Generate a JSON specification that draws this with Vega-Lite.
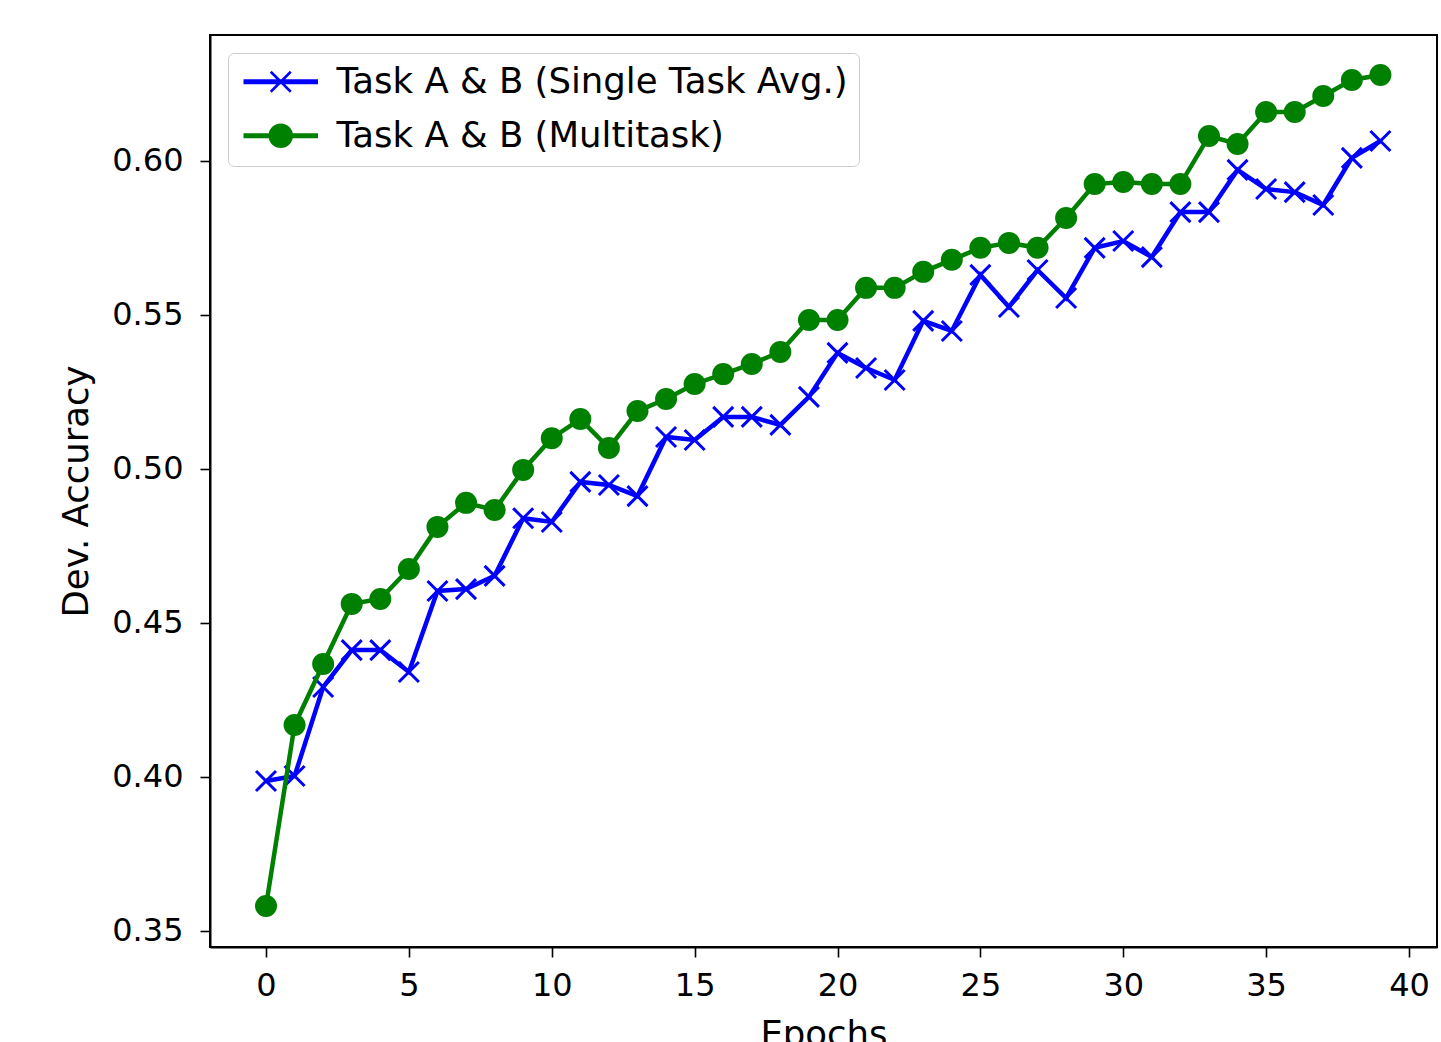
{
  "$schema": "https://vega.github.io/schema/vega-lite/v6.json",
  "width": 1227,
  "height": 912,
  "autosize": {"type": "none"},
  "padding": {"left": 210, "top": 35, "right": 4, "bottom": 95},
  "background": "white",
  "config": {
    "font": "DejaVu Sans",
    "view": {"stroke": "black", "strokeWidth": 2},
    "axis": {
      "grid": false, "domainColor": "black", "domainWidth": 2,
      "tickColor": "black", "tickWidth": 1.6, "tickSize": 10,
      "labelFontSize": 32, "labelColor": "black", "labelFont": "DejaVu Sans",
      "titleFontSize": 35.5, "titleFontWeight": "normal", "titleColor": "black", "titleFont": "DejaVu Sans"
    }
  },
  "data": {"values": [
    {"epoch":0,"series":"Task A & B (Single Task Avg.)","acc":0.3987},
    {"epoch":1,"series":"Task A & B (Single Task Avg.)","acc":0.4003},
    {"epoch":2,"series":"Task A & B (Single Task Avg.)","acc":0.4292},
    {"epoch":3,"series":"Task A & B (Single Task Avg.)","acc":0.4412},
    {"epoch":4,"series":"Task A & B (Single Task Avg.)","acc":0.4412},
    {"epoch":5,"series":"Task A & B (Single Task Avg.)","acc":0.4341},
    {"epoch":6,"series":"Task A & B (Single Task Avg.)","acc":0.4604},
    {"epoch":7,"series":"Task A & B (Single Task Avg.)","acc":0.4610},
    {"epoch":8,"series":"Task A & B (Single Task Avg.)","acc":0.4653},
    {"epoch":9,"series":"Task A & B (Single Task Avg.)","acc":0.4840},
    {"epoch":10,"series":"Task A & B (Single Task Avg.)","acc":0.4828},
    {"epoch":11,"series":"Task A & B (Single Task Avg.)","acc":0.4958},
    {"epoch":12,"series":"Task A & B (Single Task Avg.)","acc":0.4948},
    {"epoch":13,"series":"Task A & B (Single Task Avg.)","acc":0.4912},
    {"epoch":14,"series":"Task A & B (Single Task Avg.)","acc":0.5104},
    {"epoch":15,"series":"Task A & B (Single Task Avg.)","acc":0.5094},
    {"epoch":16,"series":"Task A & B (Single Task Avg.)","acc":0.5169},
    {"epoch":17,"series":"Task A & B (Single Task Avg.)","acc":0.5169},
    {"epoch":18,"series":"Task A & B (Single Task Avg.)","acc":0.5143},
    {"epoch":19,"series":"Task A & B (Single Task Avg.)","acc":0.5234},
    {"epoch":20,"series":"Task A & B (Single Task Avg.)","acc":0.5377},
    {"epoch":21,"series":"Task A & B (Single Task Avg.)","acc":0.5328},
    {"epoch":22,"series":"Task A & B (Single Task Avg.)","acc":0.5289},
    {"epoch":23,"series":"Task A & B (Single Task Avg.)","acc":0.5481},
    {"epoch":24,"series":"Task A & B (Single Task Avg.)","acc":0.5448},
    {"epoch":25,"series":"Task A & B (Single Task Avg.)","acc":0.5630},
    {"epoch":26,"series":"Task A & B (Single Task Avg.)","acc":0.5526},
    {"epoch":27,"series":"Task A & B (Single Task Avg.)","acc":0.5646},
    {"epoch":28,"series":"Task A & B (Single Task Avg.)","acc":0.5555},
    {"epoch":29,"series":"Task A & B (Single Task Avg.)","acc":0.5718},
    {"epoch":30,"series":"Task A & B (Single Task Avg.)","acc":0.5740},
    {"epoch":31,"series":"Task A & B (Single Task Avg.)","acc":0.5688},
    {"epoch":32,"series":"Task A & B (Single Task Avg.)","acc":0.5834},
    {"epoch":33,"series":"Task A & B (Single Task Avg.)","acc":0.5834},
    {"epoch":34,"series":"Task A & B (Single Task Avg.)","acc":0.5971},
    {"epoch":35,"series":"Task A & B (Single Task Avg.)","acc":0.5909},
    {"epoch":36,"series":"Task A & B (Single Task Avg.)","acc":0.5899},
    {"epoch":37,"series":"Task A & B (Single Task Avg.)","acc":0.5857},
    {"epoch":38,"series":"Task A & B (Single Task Avg.)","acc":0.6010},
    {"epoch":39,"series":"Task A & B (Single Task Avg.)","acc":0.6065},
    {"epoch":0,"series":"Task A & B (Multitask)","acc":0.3581},
    {"epoch":1,"series":"Task A & B (Multitask)","acc":0.4169},
    {"epoch":2,"series":"Task A & B (Multitask)","acc":0.4367},
    {"epoch":3,"series":"Task A & B (Multitask)","acc":0.4562},
    {"epoch":4,"series":"Task A & B (Multitask)","acc":0.4578},
    {"epoch":5,"series":"Task A & B (Multitask)","acc":0.4675},
    {"epoch":6,"series":"Task A & B (Multitask)","acc":0.4812},
    {"epoch":7,"series":"Task A & B (Multitask)","acc":0.4890},
    {"epoch":8,"series":"Task A & B (Multitask)","acc":0.4867},
    {"epoch":9,"series":"Task A & B (Multitask)","acc":0.4997},
    {"epoch":10,"series":"Task A & B (Multitask)","acc":0.5100},
    {"epoch":11,"series":"Task A & B (Multitask)","acc":0.5162},
    {"epoch":12,"series":"Task A & B (Multitask)","acc":0.5068},
    {"epoch":13,"series":"Task A & B (Multitask)","acc":0.5188},
    {"epoch":14,"series":"Task A & B (Multitask)","acc":0.5227},
    {"epoch":15,"series":"Task A & B (Multitask)","acc":0.5276},
    {"epoch":16,"series":"Task A & B (Multitask)","acc":0.5308},
    {"epoch":17,"series":"Task A & B (Multitask)","acc":0.5341},
    {"epoch":18,"series":"Task A & B (Multitask)","acc":0.5380},
    {"epoch":19,"series":"Task A & B (Multitask)","acc":0.5484},
    {"epoch":20,"series":"Task A & B (Multitask)","acc":0.5484},
    {"epoch":21,"series":"Task A & B (Multitask)","acc":0.5588},
    {"epoch":22,"series":"Task A & B (Multitask)","acc":0.5588},
    {"epoch":23,"series":"Task A & B (Multitask)","acc":0.5640},
    {"epoch":24,"series":"Task A & B (Multitask)","acc":0.5679},
    {"epoch":25,"series":"Task A & B (Multitask)","acc":0.5718},
    {"epoch":26,"series":"Task A & B (Multitask)","acc":0.5734},
    {"epoch":27,"series":"Task A & B (Multitask)","acc":0.5718},
    {"epoch":28,"series":"Task A & B (Multitask)","acc":0.5815},
    {"epoch":29,"series":"Task A & B (Multitask)","acc":0.5925},
    {"epoch":30,"series":"Task A & B (Multitask)","acc":0.5932},
    {"epoch":31,"series":"Task A & B (Multitask)","acc":0.5925},
    {"epoch":32,"series":"Task A & B (Multitask)","acc":0.5925},
    {"epoch":33,"series":"Task A & B (Multitask)","acc":0.6081},
    {"epoch":34,"series":"Task A & B (Multitask)","acc":0.6055},
    {"epoch":35,"series":"Task A & B (Multitask)","acc":0.6159},
    {"epoch":36,"series":"Task A & B (Multitask)","acc":0.6159},
    {"epoch":37,"series":"Task A & B (Multitask)","acc":0.6211},
    {"epoch":38,"series":"Task A & B (Multitask)","acc":0.6263},
    {"epoch":39,"series":"Task A & B (Multitask)","acc":0.6279}
  ]},
  "encoding": {
    "x": {"field": "epoch", "type": "quantitative", "title": "Epochs",
      "scale": {"domain": [-1.96, 40.98], "nice": false, "zero": false},
      "axis": {"values": [0,5,10,15,20,25,30,35,40], "labelPadding": 13, "titlePadding": 16, "labelFlush": false}},
    "y": {"field": "acc", "type": "quantitative", "title": "Dev. Accuracy",
      "scale": {"domain": [0.3448, 0.6409], "nice": false, "zero": false},
      "axis": {"values": [0.35,0.40,0.45,0.50,0.55,0.60], "format": ".2f", "labelPadding": 17, "titlePadding": 17, "labelFlush": false}}
  },
  "layer": [
    {
      "transform": [{"filter": "datum.series == 'Task A & B (Single Task Avg.)'"}],
      "mark": {"type": "line", "strokeWidth": 4.5},
      "encoding": {
        "color": {"field": "series", "type": "nominal",
          "scale": {"domain": ["Task A & B (Single Task Avg.)", "Task A & B (Multitask)"], "range": ["#0000ff", "#008000"]},
          "legend": {
            "title": null, "orient": "top-left", "offset": 18, "padding": 11,
            "labelFontSize": 35.5, "labelColor": "black", "labelFont": "DejaVu Sans", "labelLimit": 0,
            "symbolSize": 576, "labelOffset": 62, "rowPadding": 17,
            "strokeColor": "#cccccc", "fillColor": "rgba(255,255,255,0.8)", "cornerRadius": 6,
            "symbolType": "M-1,-0.083H5V0.083H-1Z",
            "encode": {"symbols": {"update": {
              "shape": {"signal": "datum.value == 'Task A & B (Multitask)' ? 'M-1,-0.1H5V0.1H-1ZM2.917,0A0.917,0.917,0,1,1,1.083,0A0.917,0.917,0,1,1,2.917,0Z' : 'M-1,-0.1H5V0.1H-1ZM1.167,-0.833L2.833,0.833M1.167,0.833L2.833,-0.833'"},
              "fill": {"signal": "datum.value == 'Task A & B (Multitask)' ? '#008000' : '#0000ff'"},
              "stroke": {"signal": "datum.value == 'Task A & B (Multitask)' ? '#008000' : '#0000ff'"},
              "strokeWidth": {"value": 2.5},
              "opacity": {"value": 1}
            }}}
          }
        }
      }
    },
    {
      "transform": [{"filter": "datum.series == 'Task A & B (Single Task Avg.)'"}],
      "mark": {"type": "point", "shape": "M-1,-1L1,1M-1,1L1,-1", "size": 400, "filled": false, "color": "#0000ff", "strokeWidth": 3, "opacity": 1}
    },
    {
      "transform": [{"filter": "datum.series == 'Task A & B (Multitask)'"}],
      "mark": {"type": "line", "strokeWidth": 4.5},
      "encoding": {
        "color": {"field": "series", "type": "nominal",
          "scale": {"domain": ["Task A & B (Single Task Avg.)", "Task A & B (Multitask)"], "range": ["#0000ff", "#008000"]}}
      }
    },
    {
      "transform": [{"filter": "datum.series == 'Task A & B (Multitask)'"}],
      "mark": {"type": "point", "shape": "circle", "size": 484, "filled": true, "color": "#008000", "opacity": 1}
    }
  ]
}
